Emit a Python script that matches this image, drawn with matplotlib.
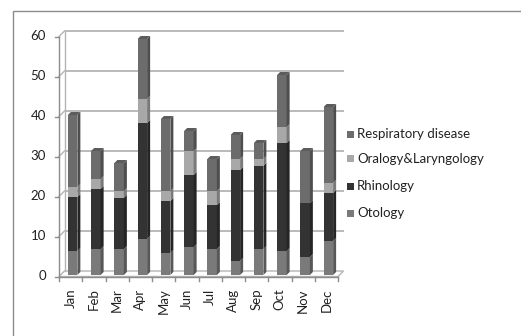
import matplotlib
matplotlib.use("Agg")
import matplotlib.pyplot as plt
from matplotlib.patches import Polygon, Rectangle
import numpy as np

months = ["Jan", "Feb", "Mar", "Apr", "May", "Jun",
          "Jul", "Aug", "Sep", "Oct", "Nov", "Dec"]
otology = [6, 6.5, 6.5, 9, 5.5, 7, 6.5, 3.5, 6.5, 6, 4.5, 8.5]
rhinology = [13.5, 15, 12.8, 29, 13, 18, 11, 22.75, 20.8, 27, 13.5, 12]
oralogy = [2.5, 2.5, 1.7, 6, 2.5, 6, 3.5, 2.75, 1.7, 4, 0, 2.5]
respiratory = [18, 7, 7, 15, 18, 5, 8, 6, 4, 13, 13, 19]

series = [
    ("Otology", otology, "#7a7a7a"),
    ("Rhinology", rhinology, "#333333"),
    ("Oralogy&Laryngology", oralogy, "#a8a8a8"),
    ("Respiratory disease", respiratory, "#6c6c6c"),
]

W, H = 521, 336
fig = plt.figure(figsize=(W / 100, H / 100), dpi=100)
fig.patch.set_facecolor("white")

plt.rcParams["font.family"] = ["Lato", "DejaVu Sans"]

# axes box in pixels
x0, x1 = 59, 338
y0, y1 = 276.5, 36.5
ax = fig.add_axes([x0 / W, 1 - y0 / H, (x1 - x0) / W, (y0 - y1) / H])
n = len(months)
ax.set_xlim(-0.5, n - 0.5)
ax.set_ylim(0, 60)
for s in ax.spines.values():
    s.set_visible(False)
ax.set_facecolor("none")

px_x = (x1 - x0) / n          # pixels per category
px_y = (y0 - y1) / 60         # pixels per unit

def dxu(p):
    return p / px_x

def dyu(p):
    return p / px_y

grid_c = "#b4b4b4"
# back wall / floor offset
ox, oy = dxu(5.5), dyu(5.5)

# floor
floor = Polygon([(-0.5, 0), (n - 0.5, 0), (n - 0.5 + ox, oy), (-0.5 + ox, oy)],
                closed=True, facecolor="white", edgecolor=grid_c, lw=1.0,
                clip_on=False, zorder=1)
ax.add_patch(floor)

# back gridlines with connectors to the left axis
for v in range(10, 70, 10):
    ax.plot([-0.5 + ox, n - 0.5 + ox], [v + oy, v + oy], color=grid_c, lw=1.3,
            clip_on=False, zorder=1, solid_capstyle="butt")
    ax.plot([-0.5, -0.5 + ox], [v, v + oy], color=grid_c, lw=1.0,
            clip_on=False, zorder=1)
ax.plot([-0.5 + ox, -0.5 + ox], [oy, 60 + oy], color=grid_c, lw=1.0,
        clip_on=False, zorder=1)

# left axis and front x axis
ax.plot([-0.5, -0.5], [0, 60], color="#8c8c8c", lw=1.0, clip_on=False, zorder=2)
ax.plot([-0.5, n - 0.5], [0, 0], color="#8c8c8c", lw=1.0, clip_on=False, zorder=2)
for v in range(0, 70, 10):
    ax.plot([-0.5 - dxu(4), -0.5], [v, v], color="#8c8c8c", lw=1.0,
            clip_on=False, zorder=2)
for i in range(n + 1):
    ax.plot([i - 0.5, i - 0.5], [0, -dyu(4)], color="#8c8c8c", lw=1.0,
            clip_on=False, zorder=2)

ax.set_xticks([])
ax.set_yticks([])
for v in range(0, 70, 10):
    ax.text(-0.5 - dxu(13), v, str(v), ha="right", va="center",
            fontsize=9.5, color="#222222")
for i, m in enumerate(months):
    ax.text(i, -dyu(12), m, rotation=90, ha="center", va="top",
            fontsize=9.5, color="#222222")

# 3D-looking stacked columns
bw = dxu(9.5)
sx, sy = dxu(3), dyu(3)
cx_off, cy_off = dxu(2), dyu(1.5)


def shade(c, f):
    r, g, b = matplotlib.colors.to_rgb(c)
    return (r * f, g * f, b * f)


bottoms = np.zeros(n)
tops = np.sum([s[1] for s in series], axis=0)
for name, vals, col in series:
    vals = np.asarray(vals, dtype=float)
    for i in range(n):
        if vals[i] <= 0:
            continue
        xl = i - bw / 2 + cx_off
        xr = xl + bw
        yb = bottoms[i] + cy_off
        yt = yb + vals[i]
        ax.add_patch(Rectangle((xl, yb), bw, vals[i], facecolor=col,
                               edgecolor="none", zorder=3, clip_on=False))
        ax.add_patch(Polygon([(xr, yb), (xr + sx, yb + sy), (xr + sx, yt + sy), (xr, yt)],
                             closed=True, facecolor=shade(col, 0.72),
                             edgecolor="none", zorder=3, clip_on=False))
        if abs(bottoms[i] + vals[i] - tops[i]) < 1e-9:
            ax.add_patch(Polygon([(xl, yt), (xr, yt), (xr + sx, yt + sy), (xl + sx, yt + sy)],
                                 closed=True, facecolor=shade(col, 0.85),
                                 edgecolor="none", zorder=3, clip_on=False))
    bottoms += vals

# legend (top entry first)
leg_y = [134, 159, 186, 213]
for (name, vals, col), yy in zip(reversed(series), leg_y):
    fig.patches.append(Rectangle((347 / W, 1 - (yy + 3.5) / H), 7 / W, 7 / H,
                                 transform=fig.transFigure, facecolor=col,
                                 edgecolor="none"))
    fig.text(357 / W, 1 - yy / H, name, ha="left", va="center",
             fontsize=9.5, color="#222222")

# chart frame
fig.patches.append(Rectangle((12.5 / W, -0.1), 1.2, 1 - 10.5 / H + 0.1,
                             transform=fig.transFigure, facecolor="none",
                             edgecolor="#8c8c8c", lw=1.0))

fig.savefig("out.png", dpi=100)
